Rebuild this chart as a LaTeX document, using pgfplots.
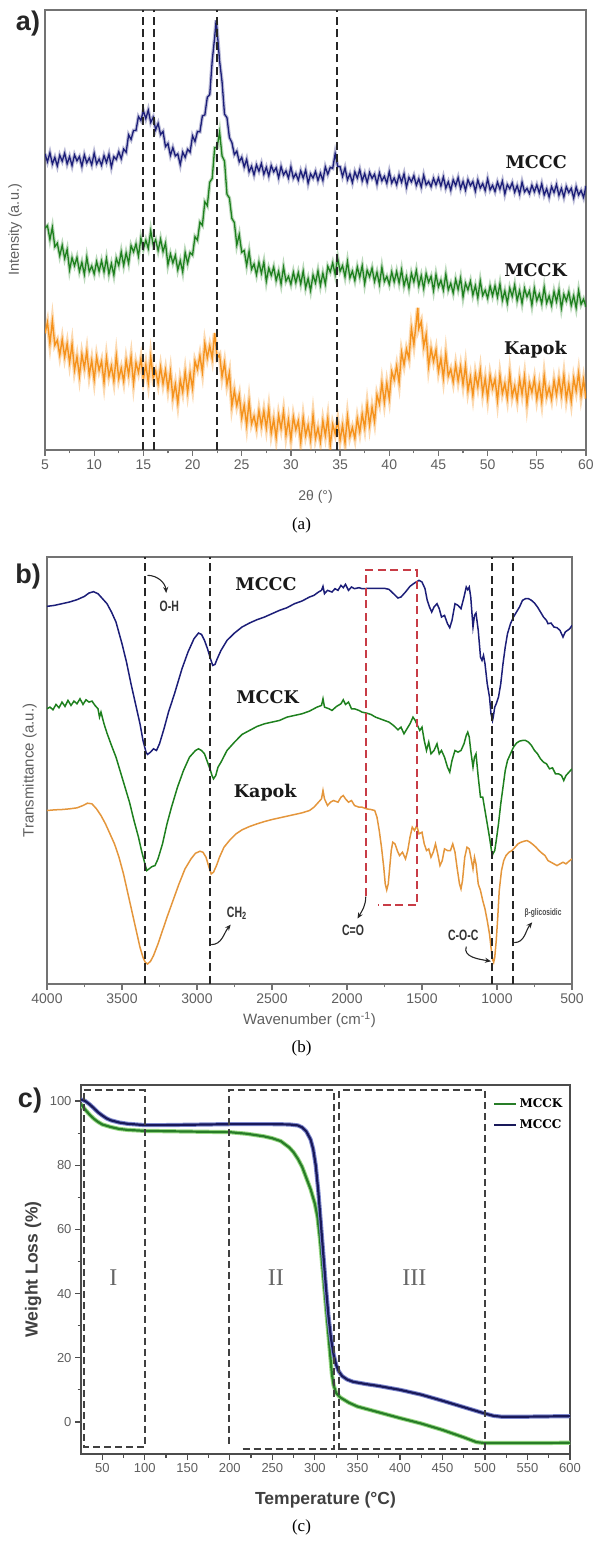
\documentclass[border=0pt]{standalone}
\usepackage{fontspec}
\setmainfont{Liberation Sans}
\newfontfamily\slab{DejaVu Serif}
\newfontfamily\tnr{Liberation Serif}
\usepackage{graphicx}
\usepackage{pgfplots}
\usepackage{pgfplotstable}
\pgfplotsset{compat=1.18}
\usetikzlibrary{arrows.meta}

\definecolor{mccc}{RGB}{28,30,120}
\definecolor{mcck}{RGB}{30,128,30}
\definecolor{kapok}{RGB}{245,146,28}
\definecolor{kapokb}{RGB}{228,150,60}
\definecolor{txtgray}{RGB}{95,95,95}
\definecolor{axgray}{RGB}{115,115,115}
\definecolor{cgreen}{RGB}{40,125,40}
\definecolor{cgreenl}{RGB}{150,215,130}
\definecolor{cnavy}{RGB}{25,25,90}
\definecolor{cnavyl}{RGB}{125,135,205}
\definecolor{boxred}{RGB}{200,60,70}

\newcommand{\fs}[1]{\fontsize{#1}{#1}\selectfont}
\newcommand{\cond}[1]{\scalebox{0.7}[1]{#1}}

% XRD patterns, 2theta in degrees, intensity in arbitrary units
\pgfplotstableread[row sep=\\]{x y\\ 5 338\\ 5.25 370\\ 5.5 309\\ 5.75 374\\ 6 304\\ 6.25 318\\ 6.5 275\\ 6.75 320\\ 7 270\\ 7.25 308\\ 7.5 254\\ 7.75 306\\ 8 232\\ 8.25 270\\ 8.5 215\\ 8.75 277\\ 9 238\\ 9.25 286\\ 9.5 218\\ 9.75 260\\ 10 204\\ 10.25 269\\ 10.5 231\\ 10.75 257\\ 11 196\\ 11.25 267\\ 11.5 214\\ 11.75 243\\ 12 200\\ 12.25 272\\ 12.5 207\\ 12.75 237\\ 13 199\\ 13.25 260\\ 13.5 218\\ 13.75 270\\ 14 193\\ 14.25 253\\ 14.5 225\\ 14.75 264\\ 15 206\\ 15.25 247\\ 15.5 196\\ 15.75 270\\ 16 209\\ 16.25 229\\ 16.5 192\\ 16.75 240\\ 17 192\\ 17.25 231\\ 17.5 177\\ 17.75 227\\ 18 152\\ 18.25 190\\ 18.5 136\\ 18.75 203\\ 19 168\\ 19.25 226\\ 19.5 168\\ 19.75 223\\ 20 179\\ 20.25 257\\ 20.5 234\\ 20.75 273\\ 21 226\\ 21.25 308\\ 21.5 267\\ 21.75 302\\ 22 265\\ 22.25 339\\ 22.5 266\\ 22.75 276\\ 23 212\\ 23.25 252\\ 23.5 190\\ 23.75 224\\ 24 128\\ 24.25 172\\ 24.5 129\\ 24.75 159\\ 25 93\\ 25.25 129\\ 25.5 72\\ 25.75 141\\ 26 76\\ 26.25 98\\ 26.5 63\\ 26.75 114\\ 27 70\\ 27.25 113\\ 27.5 64\\ 27.75 119\\ 28 49\\ 28.25 89\\ 28.5 36\\ 28.75 100\\ 29 62\\ 29.25 111\\ 29.5 43\\ 29.75 87\\ 30 31\\ 30.25 96\\ 30.5 59\\ 30.75 84\\ 31 23\\ 31.25 94\\ 31.5 42\\ 31.75 72\\ 32 29\\ 32.25 101\\ 32.5 34\\ 32.75 64\\ 33 24\\ 33.25 84\\ 33.5 42\\ 33.75 92\\ 34 14\\ 34.25 74\\ 34.5 47\\ 34.75 86\\ 35 29\\ 35.25 71\\ 35.5 21\\ 35.75 97\\ 36 39\\ 36.25 65\\ 36.5 34\\ 36.75 91\\ 37 52\\ 37.25 104\\ 37.5 64\\ 37.75 131\\ 38 72\\ 38.25 124\\ 38.5 83\\ 38.75 159\\ 39 133\\ 39.25 194\\ 39.5 138\\ 39.75 193\\ 40 149\\ 40.25 227\\ 40.5 204\\ 40.75 243\\ 41 196\\ 41.25 283\\ 41.5 247\\ 41.75 292\\ 42 265\\ 42.25 352\\ 42.5 306\\ 42.75 371\\ 42.9 412\\ 43 352\\ 43.25 372\\ 43.5 300\\ 43.75 334\\ 44 243\\ 44.25 293\\ 44.5 257\\ 44.75 290\\ 45 228\\ 45.25 265\\ 45.5 209\\ 45.75 279\\ 46 214\\ 46.25 234\\ 46.5 197\\ 46.75 246\\ 47 200\\ 47.25 242\\ 47.5 190\\ 47.75 244\\ 48 172\\ 48.25 211\\ 48.5 158\\ 48.75 221\\ 49 183\\ 49.25 232\\ 49.5 164\\ 49.75 207\\ 50 151\\ 50.25 216\\ 50.5 179\\ 50.75 205\\ 51 144\\ 51.25 216\\ 51.5 164\\ 51.75 193\\ 52 150\\ 52.25 222\\ 52.5 155\\ 52.75 185\\ 53 145\\ 53.25 205\\ 53.5 162\\ 53.75 213\\ 54 134\\ 54.25 194\\ 54.5 167\\ 54.75 205\\ 55 148\\ 55.25 190\\ 55.5 140\\ 55.75 215\\ 56 155\\ 56.25 180\\ 56.5 147\\ 56.75 201\\ 57 160\\ 57.25 206\\ 57.5 159\\ 57.75 216\\ 58 148\\ 58.25 191\\ 58.5 141\\ 58.75 207\\ 59 171\\ 59.25 223\\ 59.5 157\\ 59.75 203\\ 60 149\\}\xrdkapok
\pgfplotstableread[row sep=\\]{x y\\ 5 643\\ 5.25 650\\ 5.5 610\\ 5.75 645\\ 6 589\\ 6.25 599\\ 6.5 563\\ 6.75 593\\ 7 555\\ 7.25 581\\ 7.5 522\\ 7.75 557\\ 8 534\\ 8.25 558\\ 8.5 518\\ 8.75 544\\ 9 509\\ 9.25 558\\ 9.5 517\\ 9.75 533\\ 10 510\\ 10.25 546\\ 10.5 518\\ 10.75 548\\ 11 516\\ 11.25 555\\ 11.5 510\\ 11.75 540\\ 12 507\\ 12.25 555\\ 12.5 535\\ 12.75 574\\ 13 535\\ 13.25 571\\ 13.5 541\\ 13.75 592\\ 14 574\\ 14.25 597\\ 14.5 562\\ 14.75 614\\ 15 583\\ 15.25 608\\ 15.5 584\\ 15.75 635\\ 16 594\\ 16.25 609\\ 16.5 578\\ 16.75 611\\ 17 575\\ 17.25 599\\ 17.5 537\\ 17.75 568\\ 18 542\\ 18.25 564\\ 18.5 522\\ 18.75 549\\ 19 516\\ 19.25 572\\ 19.5 541\\ 19.75 572\\ 20 565\\ 20.25 618\\ 20.5 608\\ 20.75 660\\ 21 651\\ 21.25 719\\ 21.5 708\\ 21.75 776\\ 22 787\\ 22.25 876\\ 22.5 877\\ 22.75 921\\ 23 852\\ 23.25 837\\ 23.5 741\\ 23.75 730\\ 24 671\\ 24.25 659\\ 24.5 594\\ 24.75 624\\ 25 573\\ 25.25 578\\ 25.5 535\\ 25.75 575\\ 26 524\\ 26.25 539\\ 26.5 508\\ 26.75 544\\ 27 512\\ 27.25 544\\ 27.5 489\\ 27.75 527\\ 28 506\\ 28.25 530\\ 28.5 491\\ 28.75 517\\ 29 481\\ 29.25 530\\ 29.5 489\\ 29.75 503\\ 30 480\\ 30.25 515\\ 30.5 485\\ 30.75 514\\ 31 481\\ 31.25 518\\ 31.5 470\\ 31.75 497\\ 32 462\\ 32.25 507\\ 32.5 484\\ 32.75 519\\ 33 477\\ 33.25 512\\ 33.5 481\\ 33.75 532\\ 34 516\\ 34.25 542\\ 34.5 509\\ 34.75 556\\ 35 518\\ 35.25 534\\ 35.5 502\\ 35.75 546\\ 36 499\\ 36.25 518\\ 36.5 491\\ 36.75 530\\ 37 501\\ 37.25 534\\ 37.5 482\\ 37.75 521\\ 38 502\\ 38.25 527\\ 38.5 488\\ 38.75 515\\ 39 480\\ 39.25 529\\ 39.5 488\\ 39.75 503\\ 40 480\\ 40.25 516\\ 40.5 487\\ 40.75 517\\ 41 484\\ 41.25 522\\ 41.5 476\\ 41.75 503\\ 42 469\\ 42.25 512\\ 42.5 487\\ 42.75 520\\ 43 476\\ 43.25 505\\ 43.5 468\\ 43.75 511\\ 44 486\\ 44.25 503\\ 44.5 462\\ 44.75 508\\ 45 473\\ 45.25 492\\ 45.5 463\\ 45.75 509\\ 46 464\\ 46.25 483\\ 46.5 455\\ 46.75 494\\ 47 465\\ 47.25 498\\ 47.5 444\\ 47.75 483\\ 48 464\\ 48.25 489\\ 48.5 449\\ 48.75 476\\ 49 441\\ 49.25 490\\ 49.5 448\\ 49.75 463\\ 50 440\\ 50.25 475\\ 50.5 447\\ 50.75 476\\ 51 443\\ 51.25 481\\ 51.5 434\\ 51.75 461\\ 52 426\\ 52.25 469\\ 52.5 445\\ 52.75 478\\ 53 433\\ 53.25 462\\ 53.5 425\\ 53.75 468\\ 54 444\\ 54.25 461\\ 54.5 420\\ 54.75 468\\ 55 433\\ 55.25 452\\ 55.5 424\\ 55.75 471\\ 56 426\\ 56.25 446\\ 56.5 419\\ 56.75 459\\ 57 430\\ 57.25 464\\ 57.5 411\\ 57.75 451\\ 58 432\\ 58.25 458\\ 58.5 419\\ 58.75 447\\ 59 412\\ 59.25 462\\ 59.5 422\\ 59.75 437\\ 60 415\\}\xrdmcck
\pgfplotstableread[row sep=\\]{x y\\ 5 858\\ 5.25 835\\ 5.5 861\\ 5.75 829\\ 6 848\\ 6.25 823\\ 6.5 854\\ 6.75 837\\ 7 860\\ 7.25 829\\ 7.5 850\\ 7.75 824\\ 8 855\\ 8.25 838\\ 8.5 850\\ 8.75 822\\ 9 855\\ 9.25 832\\ 9.5 846\\ 9.75 826\\ 10 860\\ 10.25 829\\ 10.5 843\\ 10.75 825\\ 11 853\\ 11.25 833\\ 11.5 857\\ 11.75 820\\ 12 850\\ 12.25 842\\ 12.5 864\\ 12.75 844\\ 13 872\\ 13.25 863\\ 13.5 913\\ 13.75 900\\ 14 926\\ 14.25 926\\ 14.5 966\\ 14.75 955\\ 15 983\\ 15.25 960\\ 15.5 985\\ 15.75 949\\ 16 964\\ 16.25 928\\ 16.5 946\\ 16.75 914\\ 17 923\\ 17.25 879\\ 17.5 888\\ 17.75 854\\ 18 876\\ 18.25 852\\ 18.5 858\\ 18.75 827\\ 19 863\\ 19.25 848\\ 19.5 871\\ 19.75 863\\ 20 910\\ 20.25 894\\ 20.5 923\\ 20.75 922\\ 21 968\\ 21.25 971\\ 21.5 1022\\ 21.75 1030\\ 22 1128\\ 22.25 1196\\ 22.4 1245\\ 22.5 1215\\ 22.75 1127\\ 23 1067\\ 23.25 973\\ 23.5 963\\ 23.75 905\\ 24 891\\ 24.25 856\\ 24.5 866\\ 24.75 835\\ 25 848\\ 25.25 820\\ 25.5 842\\ 25.75 806\\ 26 822\\ 26.25 797\\ 26.5 826\\ 26.75 808\\ 27 830\\ 27.25 799\\ 27.5 819\\ 27.75 794\\ 28 824\\ 28.25 806\\ 28.5 818\\ 28.75 789\\ 29 821\\ 29.25 797\\ 29.5 809\\ 29.75 788\\ 30 820\\ 30.25 788\\ 30.5 801\\ 30.75 782\\ 31 809\\ 31.25 788\\ 31.5 811\\ 31.75 773\\ 32 800\\ 32.25 788\\ 32.5 807\\ 32.75 781\\ 33 802\\ 33.25 781\\ 33.5 820\\ 33.75 799\\ 34 819\\ 34.25 816\\ 34.5 859\\ 34.75 822\\ 35 821\\ 35.25 793\\ 35.5 817\\ 35.75 783\\ 36 800\\ 36.25 775\\ 36.5 806\\ 36.75 788\\ 37 812\\ 37.25 780\\ 37.5 801\\ 37.75 775\\ 38 804\\ 38.25 787\\ 38.5 799\\ 38.75 771\\ 39 803\\ 39.25 780\\ 39.5 793\\ 39.75 773\\ 40 806\\ 40.25 774\\ 40.5 788\\ 40.75 769\\ 41 797\\ 41.25 776\\ 41.5 800\\ 41.75 762\\ 42 790\\ 42.25 777\\ 42.5 795\\ 42.75 767\\ 43 786\\ 43.25 762\\ 43.5 796\\ 43.75 768\\ 44 778\\ 44.25 763\\ 44.5 787\\ 44.75 768\\ 45 788\\ 45.25 765\\ 45.5 791\\ 45.75 759\\ 46 777\\ 46.25 753\\ 46.5 783\\ 46.75 766\\ 47 789\\ 47.25 758\\ 47.5 778\\ 47.75 753\\ 48 783\\ 48.25 766\\ 48.5 778\\ 48.75 750\\ 49 782\\ 49.25 759\\ 49.5 772\\ 49.75 752\\ 50 785\\ 50.25 754\\ 50.5 767\\ 50.75 749\\ 51 776\\ 51.25 756\\ 51.5 779\\ 51.75 742\\ 52 769\\ 52.25 757\\ 52.5 774\\ 52.75 747\\ 53 766\\ 53.25 742\\ 53.5 776\\ 53.75 748\\ 54 758\\ 54.25 743\\ 54.5 767\\ 54.75 748\\ 55 768\\ 55.25 745\\ 55.5 771\\ 55.75 739\\ 56 757\\ 56.25 733\\ 56.5 763\\ 56.75 746\\ 57 769\\ 57.25 738\\ 57.5 758\\ 57.75 733\\ 58 763\\ 58.25 746\\ 58.5 758\\ 58.75 730\\ 59 762\\ 59.25 739\\ 59.5 752\\ 59.75 732\\ 60 765\\}\xrdmccc

\pgfplotsset{
  panel/.style={
    scale only axis,
    axis line style={axgray,line width=1.2pt},
    tick style={axgray,line width=1.2pt},
    tick align=outside, xtick pos=left, ytick pos=left,
    major tick length=6pt, minor tick length=3.5pt,
    /pgf/number format/assume math mode=true,
    /pgf/number format/1000 sep={},
    tick label style={txtgray,font=\fs{14}},
    label style={txtgray},
  },
}
\tikzset{
  lbl/.style={font=\slab\bfseries\fs{17.5}, text=black!90},
  vdash/.style={black!85, line width=2.2pt, dash pattern=on 8pt off 4.5pt},
  cdash/.style={black!75, line width=2pt, dash pattern=on 7pt off 4pt},
  ann/.style={font=\bfseries\fs{15}, text=black!80},
  arr/.style={black!85, line width=1.1pt, -{Stealth[length=6pt,width=5pt]}},
}

\begin{document}
\begin{tikzpicture}
\useasboundingbox (0pt,0pt) rectangle (603pt,1548pt);

% ---------------- (a) XRD ----------------
\begin{axis}[panel, at={(45pt,1098pt)}, anchor=south west, width=541pt, height=440pt,
  xmin=5, xmax=60, ymin=0, ymax=1275, xtick={5,10,...,60}, minor x tick num=1, ytick=\empty,
  xlabel={2θ (°)}, ylabel={Intensity (a.u.)},
  xlabel style={font=\fs{14}, at={(axis description cs:0.5,-0.107)}, anchor=center},
  ylabel style={font=\fs{14.5}, at={(axis description cs:-0.055,0.5)}, anchor=center}]
% soft band under each noisy trace, then the trace itself
\addplot[kapok, line width=4pt, opacity=0.35] table {\xrdkapok};
\addplot[kapok, line width=1.4pt] table {\xrdkapok};
\addplot[mcck, line width=3.5pt, opacity=0.3] table {\xrdmcck};
\addplot[mcck, line width=1.3pt] table {\xrdmcck};
\addplot[mccc, line width=3.5pt, opacity=0.3] table {\xrdmccc};
\addplot[mccc, line width=1.3pt] table {\xrdmccc};
\draw[vdash] (axis cs:14.93,0) -- (axis cs:14.93,1275);
\draw[vdash] (axis cs:16.1,0) -- (axis cs:16.1,1275);
\draw[vdash] (axis cs:22.47,0) -- (axis cs:22.47,1275);
\draw[vdash] (axis cs:34.67,0) -- (axis cs:34.67,1275);
\node[lbl, anchor=east] at (axis cs:58.4,835) {MCCC};
\node[lbl, anchor=east] at (axis cs:58.4,520) {MCCK};
\node[lbl, anchor=east] at (axis cs:58.4,290) {Kapok};
\end{axis}

% ---------------- (b) FTIR ----------------
\begin{axis}[panel, at={(47pt,564pt)}, anchor=south west, width=525pt, height=427pt,
  x dir=reverse, xmin=500, xmax=4000, ymin=0, ymax=1280,
  xtick={500,1000,...,4000}, minor x tick num=1, ytick=\empty,
  xlabel={Wavenumber (cm\textsuperscript{-1})}, ylabel={Transmittance (a.u.)},
  xlabel style={font=\fs{15}, at={(axis description cs:0.5,-0.084)}, anchor=center},
  ylabel style={font=\fs{15}, at={(axis description cs:-0.033,0.5)}, anchor=center}]
\addplot[mccc, line width=1.5pt] coordinates {(4000,1132)(3950,1135)(3900,1140)(3850,1145)(3800,1152)(3750,1162)(3720,1172)(3690,1176)(3660,1170)(3630,1155)(3600,1140)(3570,1115)(3540,1085)(3500,1020)(3470,965)(3440,900)(3410,840)(3380,780)(3360,730)(3340,695)(3330,688)(3310,695)(3290,705)(3270,700)(3250,720)(3220,765)(3190,815)(3150,870)(3100,945)(3060,995)(3020,1035)(2990,1052)(2970,1048)(2950,1030)(2930,1005)(2910,975)(2895,955)(2880,958)(2865,975)(2840,1000)(2800,1030)(2750,1052)(2700,1070)(2650,1082)(2600,1092)(2550,1100)(2500,1110)(2450,1120)(2400,1128)(2350,1140)(2300,1148)(2250,1160)(2220,1165)(2190,1175)(2170,1180)(2160,1192)(2150,1170)(2130,1180)(2100,1175)(2080,1185)(2060,1180)(2040,1195)(2025,1188)(2010,1198)(1990,1180)(1970,1190)(1950,1185)(1920,1188)(1900,1185)(1850,1186)(1800,1186)(1750,1186)(1720,1183)(1690,1170)(1660,1157)(1640,1160)(1610,1175)(1580,1192)(1550,1202)(1520,1210)(1500,1205)(1480,1185)(1465,1150)(1450,1130)(1435,1115)(1420,1130)(1400,1140)(1385,1125)(1370,1100)(1350,1105)(1330,1080)(1315,1068)(1300,1090)(1280,1140)(1260,1135)(1240,1125)(1220,1160)(1205,1190)(1195,1182)(1185,1190)(1175,1160)(1165,1100)(1160,1070)(1150,1105)(1140,1112)(1125,1060)(1110,980)(1100,970)(1090,985)(1080,960)(1065,900)(1050,860)(1040,810)(1030,790)(1025,800)(1015,830)(1005,840)(990,860)(975,900)(960,960)(945,1010)(930,1050)(910,1080)(890,1100)(870,1115)(850,1130)(830,1150)(810,1155)(790,1155)(770,1150)(750,1142)(730,1130)(710,1115)(690,1100)(670,1090)(660,1080)(640,1082)(620,1070)(600,1068)(580,1060)(560,1040)(545,1055)(530,1060)(515,1065)(500,1075)};
\addplot[mcck, line width=1.5pt] coordinates {(4000,825)(3980,830)(3960,822)(3940,838)(3920,828)(3900,845)(3880,832)(3860,850)(3840,835)(3820,848)(3800,840)(3780,855)(3760,838)(3740,852)(3720,845)(3700,848)(3680,835)(3660,825)(3650,800)(3640,815)(3620,780)(3600,752)(3570,715)(3540,680)(3510,635)(3480,590)(3450,545)(3420,490)(3390,440)(3370,400)(3350,365)(3335,340)(3320,345)(3300,352)(3280,355)(3260,375)(3230,420)(3200,480)(3170,530)(3130,590)(3090,640)(3050,680)(3010,700)(2990,705)(2970,700)(2950,690)(2930,665)(2910,640)(2900,625)(2890,615)(2875,625)(2860,650)(2840,665)(2800,700)(2750,725)(2700,748)(2650,760)(2600,772)(2550,780)(2500,785)(2450,790)(2400,800)(2350,805)(2300,810)(2250,818)(2200,830)(2170,835)(2160,855)(2150,830)(2120,825)(2100,820)(2070,832)(2040,840)(2025,852)(2010,838)(1990,845)(1970,825)(1950,825)(1920,820)(1900,815)(1870,812)(1840,808)(1810,800)(1780,795)(1750,790)(1720,785)(1690,775)(1660,762)(1640,770)(1620,750)(1600,765)(1580,780)(1560,800)(1545,790)(1530,775)(1515,760)(1500,770)(1485,730)(1470,700)(1455,725)(1440,690)(1420,700)(1400,720)(1385,690)(1370,700)(1350,680)(1330,650)(1315,635)(1300,670)(1280,700)(1260,695)(1240,700)(1220,720)(1205,745)(1195,755)(1185,740)(1175,700)(1160,650)(1150,680)(1140,690)(1125,620)(1110,560)(1095,560)(1080,520)(1065,480)(1050,440)(1040,410)(1032,385)(1025,392)(1015,400)(1005,430)(990,480)(975,540)(960,590)(945,640)(930,670)(910,690)(890,710)(870,722)(850,728)(830,730)(810,730)(790,725)(770,715)(750,700)(730,690)(710,675)(690,665)(670,660)(650,645)(630,648)(610,630)(590,630)(570,625)(555,610)(540,625)(520,635)(500,645)};
\addplot[kapokb, line width=1.5pt] coordinates {(4000,520)(3950,522)(3900,523)(3850,525)(3800,528)(3760,535)(3730,542)(3700,540)(3670,525)(3640,505)(3610,480)(3580,450)(3550,420)(3520,380)(3490,330)(3460,270)(3430,210)(3400,150)(3380,110)(3360,80)(3345,65)(3330,60)(3310,68)(3290,85)(3260,120)(3230,160)(3200,200)(3160,250)(3120,300)(3080,345)(3040,375)(3010,392)(2980,398)(2960,395)(2940,380)(2920,350)(2905,330)(2890,335)(2870,355)(2850,380)(2820,410)(2780,432)(2740,450)(2700,462)(2650,472)(2600,480)(2550,487)(2500,493)(2450,498)(2400,503)(2350,508)(2300,513)(2250,520)(2220,530)(2190,545)(2170,555)(2160,580)(2150,555)(2130,535)(2110,545)(2090,550)(2060,545)(2040,560)(2025,565)(2010,555)(1990,545)(1970,550)(1950,535)(1920,530)(1900,530)(1870,525)(1840,523)(1815,520)(1800,500)(1785,460)(1770,410)(1755,350)(1745,300)(1735,282)(1725,300)(1715,350)(1705,400)(1695,425)(1680,420)(1665,400)(1650,385)(1630,395)(1610,375)(1595,400)(1580,440)(1565,470)(1550,460)(1535,475)(1520,450)(1500,455)(1485,420)(1470,400)(1455,405)(1440,380)(1425,395)(1410,420)(1395,390)(1380,355)(1365,370)(1350,405)(1330,400)(1310,400)(1295,420)(1280,395)(1265,345)(1250,300)(1240,285)(1230,310)(1215,380)(1200,410)(1185,405)(1170,370)(1160,345)(1150,380)(1140,360)(1125,300)(1110,280)(1095,250)(1080,225)(1065,190)(1050,150)(1040,110)(1030,75)(1022,65)(1015,80)(1005,130)(995,200)(985,280)(970,340)(955,370)(940,385)(920,395)(900,400)(880,410)(860,420)(840,425)(820,428)(800,430)(780,425)(760,418)(740,410)(720,400)(700,392)(680,385)(660,370)(640,365)(620,360)(600,355)(580,360)(560,365)(540,360)(520,368)(500,375)};
\draw[vdash] (axis cs:3344,0) -- (axis cs:3344,1280);
\draw[vdash] (axis cs:2914,0) -- (axis cs:2914,1280);
\draw[vdash] (axis cs:1033,0) -- (axis cs:1033,1280);
\draw[vdash] (axis cs:895,0) -- (axis cs:895,1280);
\draw[boxred, line width=2.1pt, dash pattern=on 8pt off 4.5pt] (axis cs:1875,265) -- (axis cs:1875,1240) -- (axis cs:1533,1240) -- (axis cs:1533,237) -- (axis cs:1795,237);
\node[lbl] at (axis cs:2540,1200) {MCCC};
\node[lbl] at (axis cs:2530,860) {MCCK};
\node[lbl] at (axis cs:2545,575) {Kapok};
\node[ann] at (axis cs:3185,1132) {\cond{O-H}};
\draw[arr] (axis cs:3330,1225) to[out=0,in=95] (axis cs:3205,1172);
\node[ann] at (axis cs:2735,212) {\cond{CH\textsubscript{2}}};
\draw[arr] (axis cs:2905,118) to[out=0,in=230] (axis cs:2775,178);
\node[ann] at (axis cs:1960,160) {\cond{C=O}};
\draw[arr] (axis cs:1875,262) to[out=270,in=60] (axis cs:1930,196);
\node[ann] at (axis cs:1225,145) {\cond{C-O-C}};
\draw[arr] (axis cs:1205,112) to[out=250,in=170] (axis cs:1040,68);
\node[font=\bfseries\fs{9.5}, text=black!70] at (axis cs:693,213) {\cond{β-glicosidic}};
\draw[arr] (axis cs:885,124) to[out=0,in=230] (axis cs:765,185);
\end{axis}

% ---------------- (c) TGA ----------------
\begin{axis}[panel, at={(81pt,94pt)}, anchor=south west, width=489pt, height=369pt,
  axis line style={black!70,line width=1.3pt}, tick style={black!70,line width=1.2pt},
  xmin=25, xmax=600, ymin=-10, ymax=105,
  xtick={50,100,...,600}, minor x tick num=1, ytick={0,20,...,100}, minor y tick num=1,
  tick label style={font=\fs{13}},
  xlabel={Temperature (°C)}, ylabel={Weight Loss (\%)},
  label style={font=\bfseries\fs{17.5}, text=black!75},
  xlabel style={at={(axis description cs:0.5,-0.125)}, anchor=center},
  ylabel style={at={(axis description cs:-0.098,0.5)}, anchor=center},
  legend style={at={(axis description cs:0.995,0.975)}, anchor=north east, draw=none, fill=none,
    font=\slab\bfseries\fs{12}, row sep=7pt, legend cell align=left},
  legend image code/.code={\draw[#1] (0pt,0pt) -- (22pt,0pt);}]
\addplot[cgreenl, line width=4.2pt, forget plot] coordinates {(25,99)(30,97.3)(35,95.8)(40,94.5)(45,93.5)(50,92.7)(60,91.9)(70,91.3)(80,91)(100,90.7)(150,90.5)(200,90.3)(220,89.8)(240,89)(250,88.4)(260,87.5)(270,85.5)(275,84)(280,82)(285,79.5)(290,76)(295,72.5)(300,68)(303,64)(306,57)(309,48)(312,39)(315,30)(318,21)(320,15)(322,11.5)(325,9)(330,7.6)(340,6)(350,4.8)(375,3)(400,1.2)(425,-0.5)(450,-2.5)(475,-4.8)(490,-6.3)(500,-6.6)(525,-6.6)(550,-6.6)(600,-6.5)};
\addplot[cgreen, line width=2.2pt] coordinates {(25,99)(30,97.3)(35,95.8)(40,94.5)(45,93.5)(50,92.7)(60,91.9)(70,91.3)(80,91)(100,90.7)(150,90.5)(200,90.3)(220,89.8)(240,89)(250,88.4)(260,87.5)(270,85.5)(275,84)(280,82)(285,79.5)(290,76)(295,72.5)(300,68)(303,64)(306,57)(309,48)(312,39)(315,30)(318,21)(320,15)(322,11.5)(325,9)(330,7.6)(340,6)(350,4.8)(375,3)(400,1.2)(425,-0.5)(450,-2.5)(475,-4.8)(490,-6.3)(500,-6.6)(525,-6.6)(550,-6.6)(600,-6.5)};
\addlegendentry{MCCK}
\addplot[cnavyl, line width=4.2pt, forget plot] coordinates {(25,100.5)(30,100)(35,99)(40,97.8)(45,96.5)(50,95.5)(55,94.6)(60,94)(70,93.3)(80,92.9)(100,92.5)(125,92.5)(150,92.6)(175,92.7)(200,92.8)(225,92.8)(250,92.8)(270,92.7)(280,92.4)(285,91.8)(290,90.5)(295,88)(298,85)(301,80)(304,72)(307,62)(310,52)(313,42)(316,33)(319,26)(322,21)(325,17.8)(328,15.8)(332,14.3)(338,13.2)(345,12.5)(360,11.8)(375,11.2)(400,10)(425,8.5)(450,6.6)(475,4.6)(500,2.6)(510,1.9)(520,1.6)(540,1.6)(570,1.7)(600,1.8)};
\addplot[cnavy, line width=2.2pt] coordinates {(25,100.5)(30,100)(35,99)(40,97.8)(45,96.5)(50,95.5)(55,94.6)(60,94)(70,93.3)(80,92.9)(100,92.5)(125,92.5)(150,92.6)(175,92.7)(200,92.8)(225,92.8)(250,92.8)(270,92.7)(280,92.4)(285,91.8)(290,90.5)(295,88)(298,85)(301,80)(304,72)(307,62)(310,52)(313,42)(316,33)(319,26)(322,21)(325,17.8)(328,15.8)(332,14.3)(338,13.2)(345,12.5)(360,11.8)(375,11.2)(400,10)(425,8.5)(450,6.6)(475,4.6)(500,2.6)(510,1.9)(520,1.6)(540,1.6)(570,1.7)(600,1.8)};
\addlegendentry{MCCC}
\draw[cdash] (axis cs:28.5,103.3) -- (axis cs:99.8,103.3) -- (axis cs:99.8,-7.8) -- (axis cs:28.5,-7.8) -- cycle;
\draw[cdash] (axis cs:215,-8.3) -- (axis cs:323,-8.3) -- (axis cs:323,103.3) -- (axis cs:198.7,103.3) -- (axis cs:198.7,-8);
\draw[cdash] (axis cs:328,-8.6) -- (axis cs:328,103.3) -- (axis cs:500,103.3) -- (axis cs:500,-8.3) -- (axis cs:330,-8.3);
\node[font=\tnr\fs{24}, text=black!60] at (axis cs:63,45) {I};
\node[font=\tnr\fs{24}, text=black!60] at (axis cs:254,45) {II};
\node[font=\tnr\fs{24}, text=black!60] at (axis cs:417,45) {III};
\end{axis}

% panel letters and captions
\node[font=\bfseries\fs{27}, text=black!85] at (28pt,1524pt) {a)};
\node[font=\bfseries\fs{27}, text=black!85] at (28pt,971pt) {b)};
\node[font=\bfseries\fs{27}, text=black!85] at (30pt,447pt) {c)};
\node[font=\tnr\fs{17}] at (301.5pt,1023pt) {(a)};
\node[font=\tnr\fs{17}] at (301.5pt,500pt) {(b)};
\node[font=\tnr\fs{17}] at (301.5pt,21pt) {(c)};
\end{tikzpicture}
\end{document}
